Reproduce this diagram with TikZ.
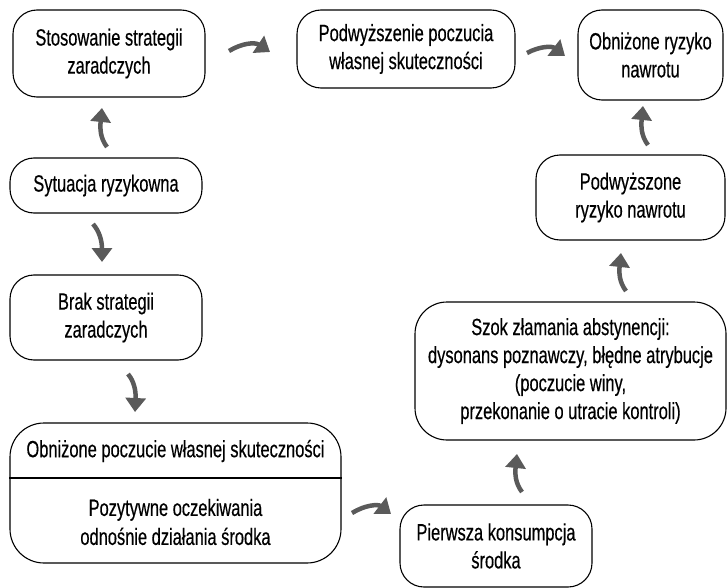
\documentclass[tikz,border=0pt]{standalone}
\usepackage{fontspec}
\setmainfont{Liberation Sans}[FakeStretch=0.7,FakeBold=0.4]
\usetikzlibrary{arrows.meta}
\definecolor{arrgray}{RGB}{90,90,90}
\tikzset{
  box/.style={draw, line width=1.1pt, rounded corners=24pt, align=center, inner sep=0pt,
    font=\fontsize{23.5}{28}\selectfont},
  txt/.style={align=center, inner sep=0pt, font=\fontsize{23.5}{29}\selectfont},
  arr/.style={draw=arrgray, line width=4.5pt, -{Triangle[length=14pt,width=20pt]}}
}
\begin{document}
\begin{tikzpicture}[x=1pt,y=-1pt]
\useasboundingbox (0,0) rectangle (727,588);
% boxes
\node[box, minimum width=192pt, minimum height=87pt] (b1) at (109,53.5) {Stosowanie strategii\\zaradczych};
\node[box, minimum width=218pt, minimum height=78pt] (b2) at (406,49) {Podwyższenie poczucia\\własnej skuteczności};
\node[box, minimum width=145pt, minimum height=90pt] (b3) at (650.5,55) {Obniżone ryzyko\\nawrotu};
\node[box, minimum width=189pt, minimum height=85pt] (b4) at (630.5,197.5) {Podwyższone\\ryzyko nawrotu};
\node[box, minimum width=311pt, minimum height=138pt, rounded corners=32pt] (b5) at (570.5,371) {Szok złamania abstynencji:\\dysonans poznawczy, błędne atrybucje\\(poczucie winy,\\przekonanie o utracie kontroli)};
\node[box, minimum width=192pt, minimum height=82pt] (b6) at (496,546) {Pierwsza konsumpcja\\środka};
\node[box, minimum width=331pt, minimum height=140pt, rounded corners=34pt] (b7) at (175.5,493) {};
\coordinate (div) at (175.5,478);
\draw[line width=1.1pt] (b7.west |- div) -- (b7.east |- div);
\node[txt] (b7a) at (175.5,451) {Obniżone poczucie własnej skuteczności};
\node[txt] (b7b) at (175.5,522) {Pozytywne oczekiwania\\odnośnie działania środka};
\node[box, minimum width=192pt, minimum height=85pt] (b8) at (106,317.5) {Brak strategii\\zaradczych};
\node[box, minimum width=192pt, minimum height=55pt] (b9) at (106,185.5) {Sytuacja ryzykowna};
% arrow end points
\coordinate (a1s) at (229,51); \coordinate (a1e) at (270,52);
\coordinate (a2s) at (527,53); \coordinate (a2e) at (565,56);
\coordinate (a3s) at (648,145); \coordinate (a3e) at (643,106);
\coordinate (a4s) at (626,291); \coordinate (a4e) at (621,253);
\coordinate (a5s) at (522,492); \coordinate (a5e) at (517,454);
\coordinate (a6s) at (352,513); \coordinate (a6e) at (391,514);
\coordinate (a7s) at (128,374); \coordinate (a7e) at (135,412);
\coordinate (a8s) at (93,224); \coordinate (a8e) at (102,262);
\coordinate (a9s) at (107,147); \coordinate (a9e) at (102,108);
% arrows
\draw[arr] (a1s) .. controls ++(13,-8) and ++(-15,-10) .. (a1e);
\draw[arr] (a2s) .. controls ++(13,-7) and ++(-13,-10) .. (a2e);
\draw[arr] (a6s) .. controls ++(13,-8) and ++(-13,-10) .. (a6e);
\draw[arr] (a9s) .. controls ++(-7,-9) and ++(-2,20) .. (a9e);
\draw[arr] (a3s) .. controls ++(-7,-9) and ++(-2,20) .. (a3e);
\draw[arr] (a4s) .. controls ++(-7,-9) and ++(-2,19) .. (a4e);
\draw[arr] (a5s) .. controls ++(-7,-9) and ++(-2,19) .. (a5e);
\draw[arr] (a8s) .. controls ++(6,7) and ++(0,-22) .. (a8e);
\draw[arr] (a7s) .. controls ++(6,7) and ++(1,-21) .. (a7e);
\end{tikzpicture}
\end{document}
